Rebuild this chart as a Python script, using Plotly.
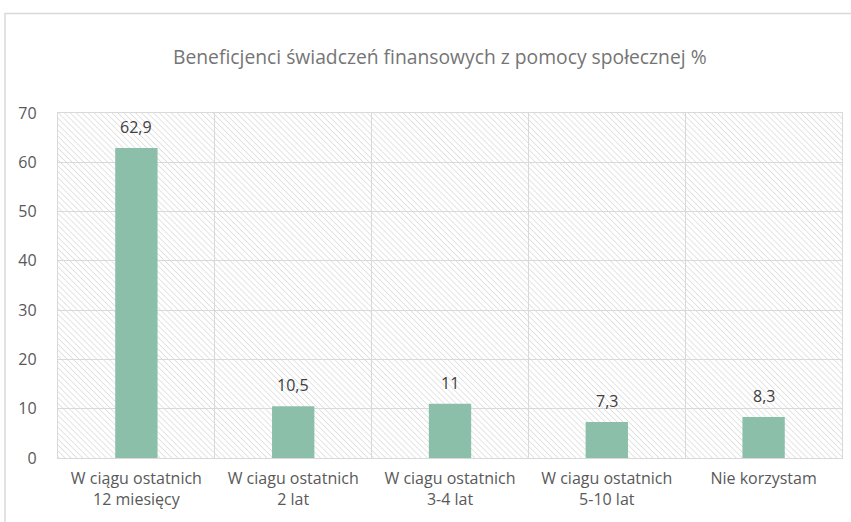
import base64
import plotly.graph_objects as go

categories = [
    "W ciągu ostatnich<br>12 miesięcy",
    "W ciagu ostatnich<br>2 lat",
    "W ciagu ostatnich<br>3-4 lat",
    "W ciagu ostatnich<br>5-10 lat",
    "Nie korzystam",
]
values = [62.9, 10.5, 11, 7.3, 8.3]
y_ticks = [0, 10, 20, 30, 40, 50, 60, 70]
title_text = "Beneficjenci świadczeń finansowych z pomocy społecznej %"

labels = [f"{v:g}".replace(".", ",") for v in values]

W, H = 851, 522
L, R, T, B = 58, 9, 113, 64
pw, ph = W - L - R, H - T - B

svg = (
    f'<svg xmlns="http://www.w3.org/2000/svg" width="{pw}" height="{ph}">'
    '<defs><pattern id="p" patternUnits="userSpaceOnUse" width="4.2" height="4.2" '
    'patternTransform="rotate(-45)">'
    '<line x1="0" y1="0" x2="0" y2="4.2" stroke="#d2d2d2" stroke-width="1.2"/>'
    '</pattern></defs><rect width="100%" height="100%" fill="white"/>'
    '<rect width="100%" height="100%" fill="url(#p)"/></svg>'
)
src = "data:image/svg+xml;base64," + base64.b64encode(svg.encode()).decode()

font = "'Open Sans', Lato, sans-serif"

fig = go.Figure(
    go.Bar(
        x=categories,
        y=values,
        marker=dict(color="#8BBFAA", line=dict(width=0)),
        width=0.27,
        cliponaxis=False,
    )
)

annotations = [
    dict(
        text=title_text, xref="paper", yref="paper",
        x=(440 - L) / pw, y=(H - B - 56) / ph, xanchor="center", yanchor="middle",
        showarrow=False, font=dict(size=19.3, color="#757575", family=font),
    )
]
for c, v, t in zip(categories, values, labels):
    annotations.append(
        dict(
            x=c, y=v, text=t, xref="x", yref="y", showarrow=False,
            yanchor="bottom", yshift=8,
            font=dict(size=16, color="#404040", family=font),
        )
    )

fig.update_layout(
    width=W,
    height=H,
    margin=dict(l=L, r=R, t=T, b=B),
    paper_bgcolor="white",
    plot_bgcolor="rgba(0,0,0,0)",
    font=dict(family=font, color="#595959", size=16),
    showlegend=False,
    separators=", ",
    images=[
        dict(
            source=src, xref="paper", yref="paper", x=0, y=1, sizex=1, sizey=1,
            xanchor="left", yanchor="top", sizing="stretch", layer="below",
        )
    ],
    shapes=[
        dict(
            type="rect", xref="paper", yref="paper",
            x0=(5 - L) / pw, x1=1.2, y0=-0.5, y1=(H - B - 13.5) / ph,
            line=dict(color="#D9D9D9", width=1.5), fillcolor="rgba(0,0,0,0)", layer="below",
        )
    ],
    annotations=annotations,
)

fig.update_xaxes(
    type="category",
    tickson="boundaries",
    range=[-0.5, 4.5],
    showgrid=True,
    gridcolor="#D9D9D9",
    gridwidth=1.3,
    showline=True,
    mirror=True,
    linecolor="#D9D9D9",
    linewidth=1.3,
    ticks="",
    ticklabelstandoff=6,
    tickfont=dict(size=16, color="#595959"),
)
fig.update_yaxes(
    range=[0, 70],
    tickvals=y_ticks,
    showgrid=True,
    gridcolor="#D9D9D9",
    gridwidth=1.3,
    showline=True,
    mirror=True,
    linecolor="#D9D9D9",
    linewidth=1.3,
    zeroline=False,
    ticks="",
    ticklabelstandoff=17,
    tickfont=dict(size=16, color="#595959"),
)

fig.write_html(
    "out.html",
    config={"displayModeBar": False},
    post_script="document.body.style.margin='0';",
)
